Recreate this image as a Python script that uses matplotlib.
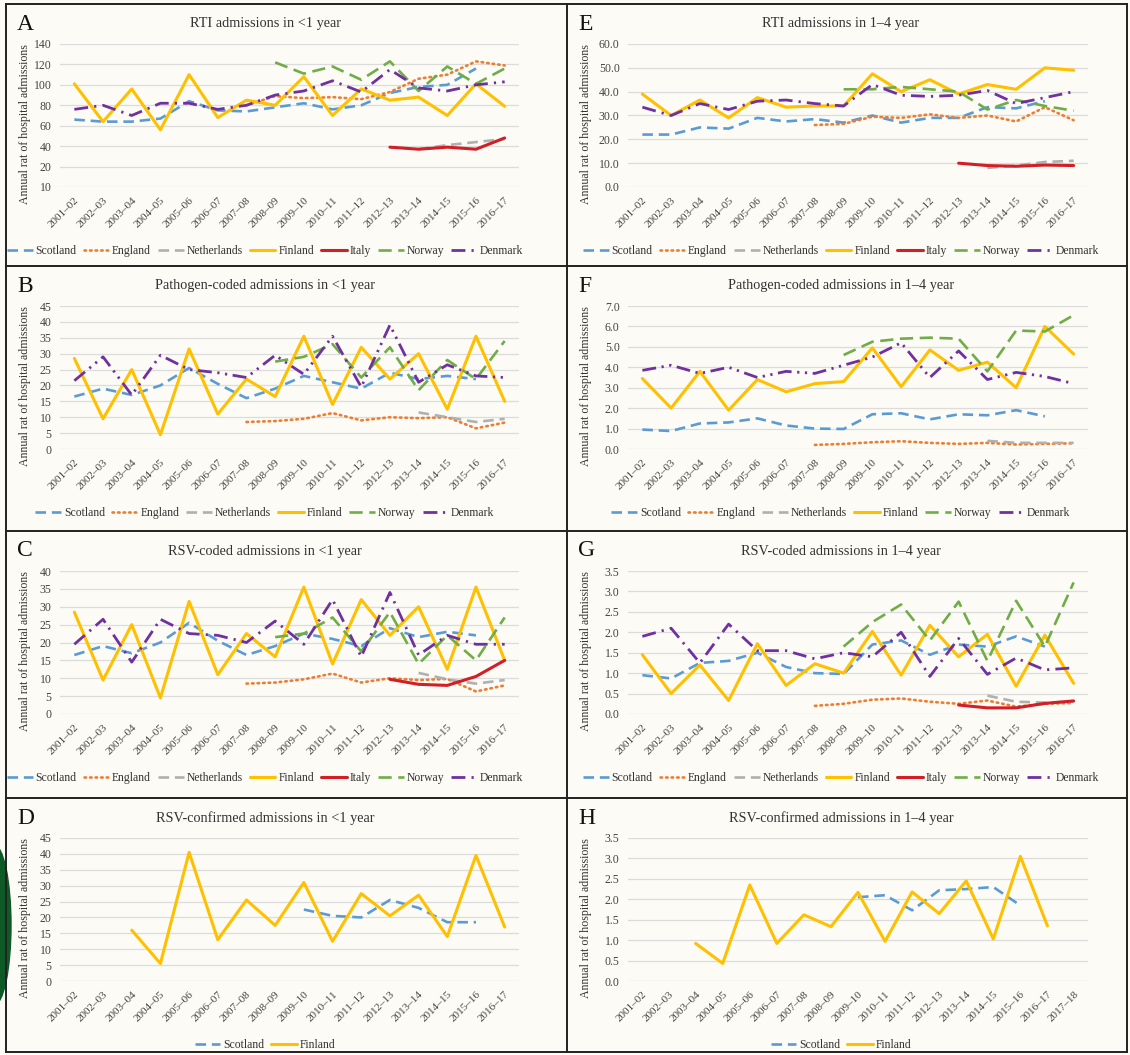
import numpy as np
import matplotlib.pyplot as plt
from matplotlib.lines import Line2D
from matplotlib.patches import Ellipse

na = np.nan

seasons = ['2001–02', '2002–03', '2003–04', '2004–05', '2005–06', '2006–07',
           '2007–08', '2008–09', '2009–10', '2010–11', '2011–12', '2012–13',
           '2013–14', '2014–15', '2015–16', '2016–17']
seasons_h = seasons + ['2017–18']

# A: RTI admissions <1 year
scot_A = [66, 64, 64, 67, 84, 75, 74, 78, 82, 76, 80, 92, 98, 100, 116, na]
eng_A = [na, na, na, na, na, na, 80, 89, 87, 88, 86, 93, 106, 110, 123, 119]
neth_A = [na, na, na, na, na, na, na, na, na, na, na, na, 37, 41, 44, 47]
fin_A = [101, 64, 96, 56, 110, 68, 85, 80, 108, 70, 96, 85, 88, 70, 101, 79]
ita_A = [na, na, na, na, na, na, na, na, na, na, na, 39, 37, 39, 37, 48]
nor_A = [na, na, na, na, na, na, na, 122, 111, 118, 105, 123, 94, 118, 101, 116]
den_A = [76, 80, 70, 82, 82, 76, 80, 90, 94, 104, 93, 115, 97, 94, 100, 103]

# E: RTI admissions 1-4 year
scot_E = [22, 22, 25, 24.5, 29, 27.5, 28.5, 27, 30, 27, 29, 29, 33.5, 33, 36, na]
eng_E = [na, na, na, na, na, na, 26, 26.5, 29.5, 29, 30.5, 29, 30, 27.5, 33.5, 28]
neth_E = [na, na, na, na, na, na, na, na, na, na, na, na, 8, 9, 10.5, 11]
fin_E = [39, 30, 36.5, 29, 37.5, 33.5, 34, 34, 47.5, 40, 45, 39, 43, 41, 50, 49]
ita_E = [na, na, na, na, na, na, na, na, na, na, na, 10, 9, 8.7, 9.2, 9]
nor_E = [na, na, na, na, na, na, na, 41, 41, 42, 41, 40, 32.5, 36.5, 34, 32]
den_E = [33.5, 30, 35, 32.5, 36, 36.5, 35, 34, 43, 38.5, 38, 38.5, 40.5, 35, 37.5, 40]

# B: pathogen-coded <1 year
scot_B = [16.5, 19, 17, 20, 25.5, 20.5, 16, 19, 23, 21, 19, 24, 22, 23, 22, na]
eng_B = [na, na, na, na, na, na, 8.5, 8.8, 9.5, 11.3, 9, 10, 9.7, 10, 6.5, 8.3]
neth_B = [na, na, na, na, na, na, na, na, na, na, na, na, 11.5, 10, 8.5, 9.5]
fin_B = [28.5, 9.5, 25, 4.5, 31.5, 11, 22, 16.5, 35.5, 14, 32, 22, 30, 12.5, 35.5, 15]
nor_B = [na, na, na, na, na, na, na, 27.5, 29, 33, 22.5, 32, 18.5, 28, 22, 34]
den_B = [21.5, 29, 17, 29.5, 25, 24, 22.5, 29.5, 23.5, 35.5, 19.5, 39, 21, 26.5, 23, 22.5]

# F: pathogen-coded 1-4 year
scot_F = [0.95, 0.88, 1.25, 1.3, 1.5, 1.15, 1.0, 0.98, 1.7, 1.75, 1.45, 1.7, 1.65, 1.9, 1.6, na]
eng_F = [na, na, na, na, na, na, 0.2, 0.25, 0.33, 0.38, 0.3, 0.25, 0.3, 0.22, 0.25, 0.28]
neth_F = [na, na, na, na, na, na, na, na, na, na, na, na, 0.4, 0.3, 0.3, 0.3]
fin_F = [3.45, 2.0, 3.8, 1.9, 3.4, 2.8, 3.2, 3.3, 4.95, 3.05, 4.85, 3.85, 4.25, 3.0, 6.0, 4.65]
nor_F = [na, na, na, na, na, na, na, 4.6, 5.25, 5.4, 5.45, 5.4, 3.8, 5.8, 5.75, 6.55]
den_F = [3.85, 4.1, 3.7, 4.0, 3.5, 3.8, 3.7, 4.1, 4.5, 5.2, 3.5, 4.8, 3.4, 3.75, 3.55, 3.2]

# C: RSV-coded <1 year
scot_C = [16.5, 19, 17, 20, 25.5, 20.5, 16.5, 19, 22.5, 21, 19, 24, 21.5, 23, 22, na]
eng_C = [na, na, na, na, na, na, 8.5, 8.8, 9.7, 11.3, 8.8, 10, 9.5, 9.8, 6.3, 8]
neth_C = [na, na, na, na, na, na, na, na, na, na, na, na, 11.5, 9.7, 8.5, 9.5]
fin_C = [28.5, 9.5, 25, 4.5, 31.5, 11, 22.5, 16, 35.5, 14, 32, 22, 30, 12.5, 35.5, 15]
ita_C = [na, na, na, na, na, na, na, na, na, na, na, 9.7, 8.3, 8, 10.5, 15]
nor_C = [na, na, na, na, na, na, na, 21.5, 22.5, 27, 17.5, 28.5, 14, 22, 15, 27]
den_C = [19.5, 26.5, 14.5, 26.5, 22.5, 22, 20, 26, 19.5, 32, 16, 34, 16.5, 22, 19.5, 19.5]

# G: RSV-coded 1-4 year
scot_G = [0.95, 0.87, 1.25, 1.3, 1.5, 1.15, 1.0, 0.98, 1.7, 1.8, 1.45, 1.7, 1.65, 1.9, 1.65, na]
eng_G = [na, na, na, na, na, na, 0.2, 0.25, 0.35, 0.38, 0.3, 0.25, 0.33, 0.18, 0.25, 0.27]
neth_G = [na, na, na, na, na, na, na, na, na, na, na, na, 0.45, 0.3, 0.28, 0.3]
fin_G = [1.45, 0.5, 1.2, 0.33, 1.72, 0.7, 1.23, 1.0, 2.02, 0.95, 2.17, 1.4, 1.95, 0.68, 1.93, 0.75]
ita_G = [na, na, na, na, na, na, na, na, na, na, na, 0.22, 0.15, 0.15, 0.26, 0.32]
nor_G = [na, na, na, na, na, na, na, 1.65, 2.25, 2.68, 1.8, 2.75, 1.3, 2.77, 1.65, 3.22]
den_G = [1.9, 2.1, 1.25, 2.2, 1.55, 1.55, 1.35, 1.5, 1.4, 2.0, 0.92, 1.85, 0.97, 1.37, 1.08, 1.13]

# D: RSV-confirmed <1 year
scot_D = [na, na, na, na, na, na, na, na, 22.5, 20.5, 20, 25.5, 23, 18.5, 18.5, na]
fin_D = [na, na, 16, 5.5, 40.5, 13, 25.5, 17.5, 31, 12.5, 27.5, 20.5, 27, 14, 39.5, 17]

# H: RSV-confirmed 1-4 year
scot_H = [na, na, na, na, na, na, na, na, 2.05, 2.1, 1.73, 2.22, 2.25, 2.3, 1.85, na, na]
fin_H = [na, na, 0.92, 0.43, 2.35, 0.92, 1.62, 1.33, 2.17, 0.97, 2.18, 1.65, 2.45, 1.03, 3.05, 1.35, na]

plt.rcParams['font.family'] = ['Liberation Serif', 'DejaVu Serif']

W, H = 1130, 1055
BG = '#fcfbf6'
styles = {
    'Scotland': dict(color='#5b9bd5', lw=1.9, dashes=(4, 2.2)),
    'England': dict(color='#ed7d31', lw=1.9, dashes=(0.6, 1.5), dash_capstyle='round'),
    'Netherlands': dict(color='#b0b0b0', lw=1.9, dashes=(4, 2.2)),
    'Finland': dict(color='#ffc000', lw=2.2),
    'Italy': dict(color='#d21f26', lw=2.2),
    'Norway': dict(color='#70ad47', lw=1.9, dashes=(5, 2.5)),
    'Denmark': dict(color='#7030a0', lw=2.0, dashes=(5, 2.2, 0.8, 2.2)),
}

fig = plt.figure(figsize=(W / 100, H / 100), dpi=100, facecolor=BG)


def pbox(l, t, r, b):
    return [l / W, 1 - b / H, (r - l) / W, (b - t) / H]


def panel(letter, title, col, row, series, ylim, yticks, ylabels, cats, dd=False):
    tops = [4, 266, 531, 798]
    top = tops[row]
    if col == 0:
        l, r, x0, tx = 60, 519, 6, 265
    else:
        l, r, x0, tx = 628, 1088, 567, 841
    ax = fig.add_axes(pbox(l, top + 40, r, top + 183))
    ax.set_facecolor(BG)
    x = np.arange(len(cats))
    for name, vals in series:
        st = dict(styles[name])
        if name == 'Denmark' and dd:
            st['dashes'] = (5, 2, 0.8, 2, 0.8, 2)
        ax.plot(x, np.array(vals, dtype=float), label=name, solid_capstyle='round', **st)
    ax.set_xlim(-0.5, len(cats) - 0.5)
    ax.set_ylim(*ylim)
    ax.set_yticks(yticks)
    ax.set_yticklabels(ylabels, fontsize=8.5, color='#444444')
    ax.set_xticks(x)
    ax.set_xticklabels(cats, rotation=45, ha='right', rotation_mode='anchor',
                       fontsize=8, color='#444444')
    ax.tick_params(length=0, pad=6)
    for s in ax.spines.values():
        s.set_visible(False)
    ax.yaxis.grid(True, color='#dcdcdc', lw=0.9)
    ax.set_axisbelow(True)
    fig.text(tx / W, 1 - (top + 20) / H, title, ha='center', va='center',
             fontsize=10.3, color='#333333')
    fig.text((x0 + 11) / W, 1 - (top + 20) / H, letter, ha='left', va='center',
             fontsize=17, color='#111111')
    fig.text((x0 + 19) / W, 1 - (top + 120) / H, 'Annual rat of hospital admissions',
             rotation=90, ha='center', va='center', fontsize=8.6, color='#333333')
    h, lab = ax.get_legend_handles_labels()
    fig.legend(h, lab, loc='center', bbox_to_anchor=(tx / W, 1 - (top + 247) / H),
               ncol=len(lab), frameon=False, fontsize=8.4, handlelength=2.2,
               handletextpad=0.25, columnspacing=0.6, labelcolor='#333333')
    return ax


def all7(s, n, e, f, i, no, d):
    return [('Scotland', s), ('England', e), ('Netherlands', n), ('Finland', f),
            ('Italy', i), ('Norway', no), ('Denmark', d)]


def six(s, e, n, f, no, d):
    return [('Scotland', s), ('England', e), ('Netherlands', n), ('Finland', f),
            ('Norway', no), ('Denmark', d)]


t140 = list(range(0, 141, 20))
panel('A', 'RTI admissions in <1 year', 0, 0,
      all7(scot_A, neth_A, eng_A, fin_A, ita_A, nor_A, den_A),
      (0, 140), t140, ['10'] + [str(v) for v in t140[1:]], seasons)
t60 = list(range(0, 61, 10))
panel('E', 'RTI admissions in 1–4 year', 1, 0,
      all7(scot_E, neth_E, eng_E, fin_E, ita_E, nor_E, den_E),
      (0, 60), t60, ['%.1f' % v for v in t60], seasons)

t45 = list(range(0, 46, 5))
panel('B', 'Pathogen-coded admissions in <1 year', 0, 1,
      six(scot_B, eng_B, neth_B, fin_B, nor_B, den_B),
      (0, 45), t45, [str(v) for v in t45], seasons, dd=True)
t7 = list(range(0, 8))
panel('F', 'Pathogen-coded admissions in 1–4 year', 1, 1,
      six(scot_F, eng_F, neth_F, fin_F, nor_F, den_F),
      (0, 7), t7, ['%.1f' % v for v in t7], seasons, dd=True)

t40 = list(range(0, 41, 5))
panel('C', 'RSV-coded admissions in <1 year', 0, 2,
      all7(scot_C, neth_C, eng_C, fin_C, ita_C, nor_C, den_C),
      (0, 40), t40, [str(v) for v in t40], seasons)
t35 = [0, 0.5, 1.0, 1.5, 2.0, 2.5, 3.0, 3.5]
panel('G', 'RSV-coded admissions in 1–4 year', 1, 2,
      all7(scot_G, neth_G, eng_G, fin_G, ita_G, nor_G, den_G),
      (0, 3.5), t35, ['%.1f' % v for v in t35], seasons)

panel('D', 'RSV-confirmed admissions in <1 year', 0, 3,
      [('Scotland', scot_D), ('Finland', fin_D)],
      (0, 45), t45, [str(v) for v in t45], seasons)
panel('H', 'RSV-confirmed admissions in 1–4 year', 1, 3,
      [('Scotland', scot_H), ('Finland', fin_H)],
      (0, 3.5), t35, ['%.1f' % v for v in t35], seasons_h)

# panel frames
for (xa, ya, xb, yb) in [(6, 4, 1127, 4), (6, 1052, 1127, 1052), (6, 4, 6, 1052),
                         (1127, 4, 1127, 1052), (567, 4, 567, 1052),
                         (6, 266, 1127, 266), (6, 531, 1127, 531), (6, 798, 1127, 798)]:
    fig.add_artist(Line2D([xa / W, xb / W], [1 - ya / H, 1 - yb / H],
                          transform=fig.transFigure, color='#222222', lw=1.4))

# green logo edge peeking in at the left
fig.add_artist(Ellipse((-6 / W, 1 - 925 / H), 34 / W, 160 / H,
                       transform=fig.transFigure, color='#0e5a27', zorder=0))

fig.savefig('out.png', dpi=100, facecolor=BG)
